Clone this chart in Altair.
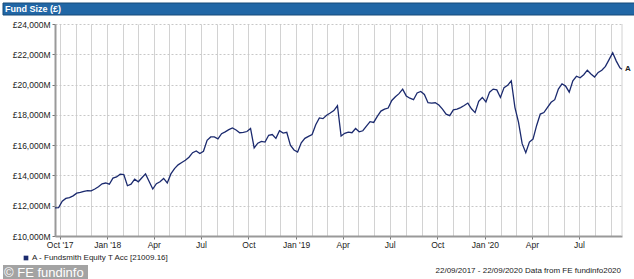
import altair as alt
import pandas as pd

# ---------------- data ----------------
start_date = "2017-09-22"
end_date = "2020-09-22"
# weekly readings (in £M) from 22/09/2017, plus the final value on 22/09/2020
fund_size = [
    11860, 11870, 12300, 12480, 12540, 12650, 12830, 12880, 12950, 13000,
    12980, 13100, 13250, 13450, 13500, 13420, 13820, 13900, 14080, 14050,
    13320, 13420, 13750, 13580, 13850, 14100, 13600, 13100, 13450, 13580,
    13800, 13500, 14100, 14450, 14700, 14850, 15000, 15200, 15500, 15620,
    15450, 15600, 16320, 16540, 16550, 16420, 16760, 16880, 17020, 17130,
    17000, 16820, 16850, 16900, 17100, 15820, 16130, 16250, 16200, 16650,
    16700, 16450, 16950, 16800, 16850, 16000, 15680, 15550, 16150, 16450,
    16580, 16700, 17350, 17800, 17750, 17980, 18120, 18280, 18600, 16600,
    16780, 16860, 16820, 17100, 16880, 16950, 17250, 17550, 17500, 17900,
    18250, 18380, 18450, 18950, 19200, 19400, 19700, 19250, 19100, 19000,
    19450, 19550, 19350, 18800, 18780, 18800, 18650, 18380, 18050, 17950,
    18330, 18380, 18480, 18620, 18780, 18400, 18150, 18900, 19150, 18850,
    19500, 19700, 19650, 19150, 19800, 19950, 20250, 18500, 17500, 16100,
    15500, 16200, 16400, 17300, 18050, 18150, 18500, 18830, 19000, 19700,
    20050, 19900, 19500, 20250, 20550, 20450, 20650, 20950, 20700, 20500,
    20800, 20950, 21200, 21650, 22100, 21550, 21100, 21009.16,
]
y_ticks = [10000, 12000, 14000, 16000, 18000, 20000, 22000, 24000]

title_text = ["Fund Size (£)"]
series_label = ["A"]
legend_text = ["A - Fundsmith Equity T Acc [21009.16]"]
brand_text = ["© FE fundinfo"]
footer_text = ["22/09/2017 - 22/09/2020 Data from FE fundinfo2020"]

weekly = pd.date_range(start_date, periods=len(fund_size) - 1, freq="7D")
dates = [d.strftime("%Y-%m-%d") for d in weekly] + [end_date]
df = pd.DataFrame({"date": dates, "value": fund_size})
df_last = df.tail(1).assign(label=series_label)

# ---------------- style ----------------
W, H = 567, 212
NAVY = "#1b2a6e"
FONT = "Liberation Sans"

x_scale = alt.Scale(
    type="utc",
    domain=[alt.DateTime(year=2017, month=9, date=22, utc=True),
            alt.DateTime(year=2020, month=9, date=22, utc=True)],
)
y_scale = alt.Scale(domain=[10000, 24000], nice=False, zero=False)

x_label_expr = (
    "utcmonth(datum.value) % 3 == 0 ? "
    "((utcmonth(datum.value) == 0 || utcyear(datum.value) == 2017) ? "
    "utcFormat(datum.value, \"%b '%y\") : utcFormat(datum.value, '%b')) : ''"
)

x_axis = alt.Axis(
    title=None,
    tickCount={"interval": "month", "step": 1},
    labelExpr=x_label_expr,
    labelOverlap=False,
    labelFlush=False,
    labelFont=FONT,
    labelFontSize=8.5,
    labelColor="#222",
    labelPadding=1,
    grid=True,
    gridColor="#d2d2d2",
    gridWidth=1,
    domainColor="#999999",
    domainWidth=2,
    tickColor="#777777",
    tickSize=3,
    tickOpacity={"condition": {"test": "utcmonth(datum.value) % 3 == 0", "value": 1}, "value": 0},
)

y_axis = alt.Axis(
    title=None,
    values=y_ticks,
    labelExpr="'£' + format(datum.value, ',') + 'M'",
    labelOverlap=False,
    labelFont=FONT,
    labelFontSize=8.5,
    labelColor="#222",
    labelPadding=2,
    grid=True,
    gridColor="#c8c8c8",
    gridDash=[2, 2],
    domainColor="#999999",
    domainWidth=2,
    tickColor="#777777",
    tickSize=3,
)

line = alt.Chart(df).mark_line(color=NAVY, strokeWidth=1.3).encode(
    x=alt.X("date:T", scale=x_scale, axis=x_axis),
    y=alt.Y("value:Q", scale=y_scale, axis=y_axis),
)

end_label = alt.Chart(df_last).mark_text(
    align="left", baseline="middle", dx=3, font=FONT, fontSize=8, fontWeight="bold", color="#222"
).encode(
    x=alt.X("date:T", scale=x_scale, axis=x_axis),
    y=alt.Y("value:Q", scale=y_scale, axis=y_axis),
    text="label:N",
)

right_border = alt.Chart(pd.DataFrame({"k": [0]})).mark_rule(color="#d2d2d2", strokeWidth=1).encode(
    x=alt.value(W), y=alt.value(0), y2=alt.value(H)
)

title_bar = alt.Chart(pd.DataFrame({"k": [0]})).mark_rect(
    color="#2167a6", stroke="#174a78", strokeWidth=1
).encode(x=alt.value(-52), x2=alt.value(600), y=alt.value(-21), y2=alt.value(-9))

title = alt.Chart(pd.DataFrame({"t": title_text})).mark_text(
    align="left", baseline="middle", font=FONT, fontSize=9, fontWeight="bold", color="white"
).encode(x=alt.value(-50), y=alt.value(-15), text="t:N")

legend_sq = alt.Chart(pd.DataFrame({"k": [0]})).mark_square(color=NAVY, size=22, opacity=1).encode(
    x=alt.value(-29), y=alt.value(234)
)
legend = alt.Chart(pd.DataFrame({"t": legend_text})).mark_text(
    align="left", baseline="middle", font=FONT, fontSize=8, color="#222"
).encode(x=alt.value(-23), y=alt.value(234), text="t:N")

brand_box = alt.Chart(pd.DataFrame({"k": [0]})).mark_rect(color="#a3a3a3").encode(
    x=alt.value(-52), x2=alt.value(33), y=alt.value(241), y2=alt.value(256)
)
brand = alt.Chart(pd.DataFrame({"t": brand_text})).mark_text(
    align="left", baseline="middle", font=FONT, fontSize=13, color="white"
).encode(x=alt.value(-51), y=alt.value(248.5), text="t:N")

footer = alt.Chart(pd.DataFrame({"t": footer_text})).mark_text(
    align="right", baseline="middle", font=FONT, fontSize=8, color="#222"
).encode(x=alt.value(566), y=alt.value(247), text="t:N")

chart = alt.layer(
    title_bar, title, right_border, line, end_label, legend_sq, legend, brand_box, brand, footer
).properties(
    width=W,
    height=H,
    autosize="none",
    padding={"left": 55, "top": 24, "right": 12, "bottom": 43},
    background="white",
).configure_view(strokeWidth=0)

chart.save("out.html", embed_options={"renderer": "svg", "actions": False})
